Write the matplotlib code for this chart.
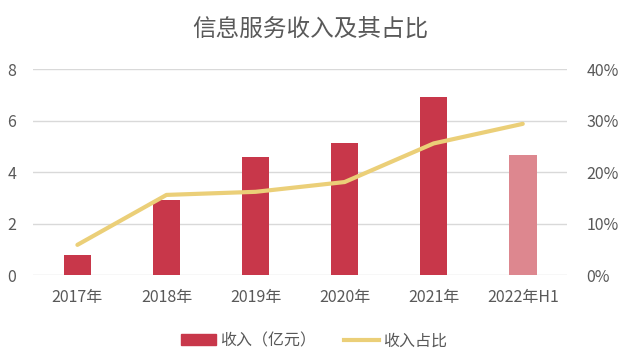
import matplotlib.pyplot as plt
from matplotlib.patches import Patch
from matplotlib.lines import Line2D
from matplotlib.ticker import PercentFormatter

plt.rcParams['font.family'] = ['Noto Sans CJK SC', 'DejaVu Sans']

# 数据
years = ['2017年', '2018年', '2019年', '2020年', '2021年', '2022年H1']
revenue = [0.79, 2.92, 4.59, 5.14, 6.92, 4.67]        # 收入（亿元）
share = [5.9, 15.6, 16.2, 18.1, 25.6, 29.4]           # 收入占比 (%)

text_color = '#595959'
bar_color = '#C8374A'
bar_light = '#DD878F'
line_color = '#EBCF78'

fig = plt.figure(figsize=(6.2, 3.57), dpi=100)
ax = fig.add_axes([0.053, 0.229, 0.862, 0.577])
ax2 = ax.twinx()

x = list(range(len(years)))
colors = [bar_color] * (len(years) - 1) + [bar_light]
ax.bar(x, revenue, width=0.31, color=colors, zorder=3)
ax2.plot(x, share, color=line_color, lw=3, solid_capstyle='round', zorder=4)

ax.set_xlim(-0.5, len(years) - 0.5)
ax.set_ylim(0, 8)
ax.set_yticks([0, 2, 4, 6, 8])
ax2.set_ylim(0, 40)
ax2.set_yticks([0, 10, 20, 30, 40])
ax2.yaxis.set_major_formatter(PercentFormatter(decimals=0))

ax.set_xticks(x)
ax.set_xticklabels(years)
ax.grid(axis='y', color='#D9D9D9', lw=1, zorder=0)
ax.set_axisbelow(True)

for a in (ax, ax2):
    for s in a.spines.values():
        s.set_visible(False)
    a.tick_params(length=0, colors=text_color, labelsize=11.5)
ax.tick_params(axis='x', pad=10)
ax.tick_params(axis='y', pad=12)
ax2.tick_params(axis='y', pad=14)

fig.text(0.5, 0.915, '信息服务收入及其占比', ha='center', va='center',
         fontsize=17, color=text_color)

handles = [Patch(color=bar_color, label='收入（亿元）'),
           Line2D([0], [0], color=line_color, lw=3, label='收入占比')]
fig.legend(handles=handles, loc='center', bbox_to_anchor=(0.507, 0.045), ncol=2,
           frameon=False, fontsize=11.5, labelcolor=text_color,
           handlelength=2.2, handletextpad=0.25, columnspacing=1.75)

fig.savefig('out.png', dpi=100)
